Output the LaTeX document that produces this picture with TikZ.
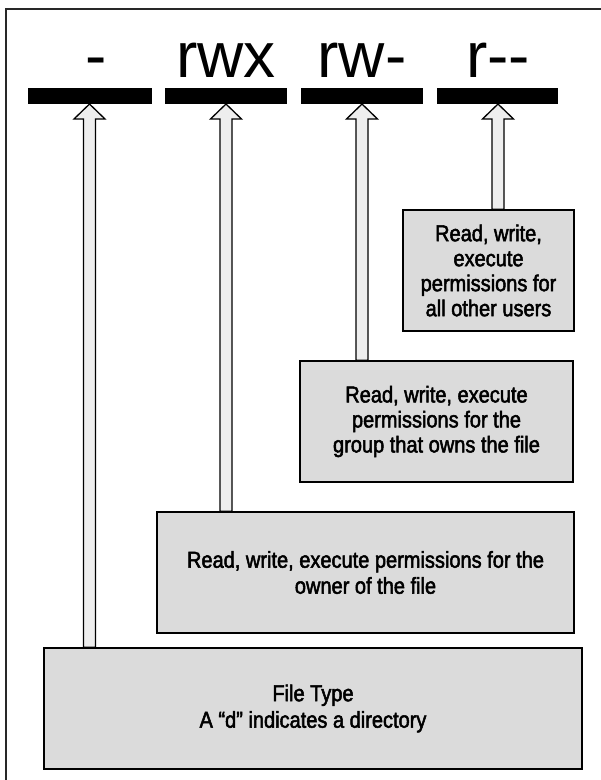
\documentclass[tikz,border=0pt]{standalone}
\usepackage{fontspec}
\setmainfont{Liberation Sans}
\newfontfamily\boxfont[FakeStretch=0.87,FakeBold=2.2]{Liberation Sans}
\usetikzlibrary{calc}
\definecolor{boxgray}{RGB}{219,219,219}
\definecolor{arrgray}{RGB}{238,238,238}
\definecolor{framegray}{RGB}{40,40,40}
\tikzset{
  permbar/.style={fill=black, draw=none},
  permlabel/.style={anchor=base, inner sep=0pt, font=\fontsize{64}{64}\selectfont},
  infobox/.style={draw=black, line width=1.6pt, fill=boxgray, inner sep=0pt,
    align=center, font=\boxfont\fontsize{23}{25}\selectfont},
  fatarrow/.style={draw=black, line width=1.3pt, fill=arrgray, line join=miter}
}
\newcommand{\fatarr}[2]{%
  \draw[fatarrow] let \p1=(#1), \p2=(#2) in
    (\x1-6pt,\y1) -- (\x1-6pt,\y2-15pt) -- (\x1-15.5pt,\y2-15pt) -- (\x1,\y2)
    -- (\x1+15.5pt,\y2-15pt) -- (\x1+6pt,\y2-15pt) -- (\x1+6pt,\y1) -- cycle;}
\begin{document}
\begin{tikzpicture}[x=1pt,y=-1pt]
\useasboundingbox (0,0) rectangle (601,780);
\clip (0,0) rectangle (601,780);
\fill[white] (0,0) rectangle (601,780);
% frame (cropped on right and bottom)
\draw[framegray, line width=1.5pt] (6,9) rectangle (620,800);

% bars
\path[permbar] (28,88) rectangle (152,104);
\path[permbar] (165,88) rectangle (287,104);
\path[permbar] (301,88) rectangle (423,104);
\path[permbar] (437,88) rectangle (558,104);
\coordinate (bar1) at (90,104);
\coordinate (bar2) at (226,104);
\coordinate (bar3) at (362,104);
\coordinate (bar4) at (498,104);

% labels
\node[permlabel] (l1) at (96,77) {-};
\node[permlabel] (l2) at (226,77) {rwx};
\node[permlabel] (l3) at (362,77) {rw{-}};
\node[permlabel] (l4) at (498,77) {r{-}{-}};

% boxes
\node[infobox, minimum width=171pt, minimum height=121pt] (others) at (488.5,270.5)
  {Read, write,\\execute\\permissions for\\all other users};
\node[infobox, minimum width=273pt, minimum height=121pt] (group) at (436.5,421.5)
  {Read, write, execute\\permissions for the\\group that owns the file};
\node[infobox, minimum width=417pt, minimum height=121pt,
  font=\boxfont\fontsize{23}{26}\selectfont] (owner) at (365.5,572.5)
  {Read, write, execute permissions for the\\owner of the file};
\node[infobox, minimum width=538pt, minimum height=121pt,
  font=\boxfont\fontsize{23}{26.5}\selectfont] (ftype) at (313,708.5)
  {File Type\\A “d” indicates a directory};

% arrow feet on the boxes
\coordinate (f1) at (89.5,0 |- ftype.north);
\coordinate (f2) at (226,0 |- owner.north);
\coordinate (f3) at (362,0 |- group.north);
\coordinate (f4) at (498,0 |- others.north);

\fatarr{f1}{f1 |- bar1}
\fatarr{f2}{f2 |- bar2}
\fatarr{f3}{f3 |- bar3}
\fatarr{f4}{f4 |- bar4}
\end{tikzpicture}
\end{document}
